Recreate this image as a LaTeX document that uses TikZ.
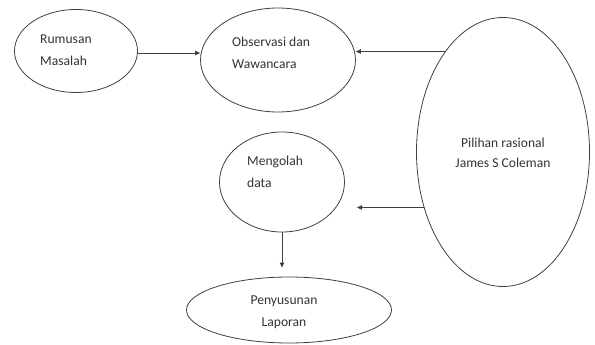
\documentclass[tikz,border=0pt]{standalone}
\usepackage{fontspec}
\setmainfont{Carlito}
\usetikzlibrary{shapes.geometric,arrows.meta}
\begin{document}
\begin{tikzpicture}[x=1pt, y=-1pt, line join=round, line cap=round,
		oval/.style={draw=black!75, line width=.8pt, ellipse, inner sep=0pt},
		teks/.style={text=black!80, font=\fontsize{13.6}{22}\selectfont, inner sep=0pt},
		panah/.style={draw=black!75, line width=.9pt, -{Triangle[length=5pt,width=4.5pt]}}]
	\useasboundingbox (0,0) rectangle (595,345);
	% ellips
	\node[oval, minimum width=123pt, minimum height=83pt] (rumusan) at (76,51) {};
	\node[oval, minimum width=155pt, minimum height=104pt] (obs) at (278,60) {};
	\node[oval, minimum width=173pt, minimum height=269pt] (pilihan) at (503,152) {};
	\node[oval, minimum width=125pt, minimum height=100pt] (olah) at (282,182) {};
	\node[oval, minimum width=205pt, minimum height=66pt] (susun) at (289,310) {};
	% teks
	\node[teks, anchor=west, align=left] (trumusan) at (40,50) {Rumusan\\Masalah};
	\node[teks, anchor=west, align=left] (tobs) at (232,53) {Observasi dan\\Wawancara};
	\node[teks, align=center, font=\fontsize{13.6}{20}\selectfont] (tpilihan) at (503,153) {Pilihan rasional\\James S Coleman};
	\node[teks, anchor=west, align=left] (tolah) at (247,172) {Mengolah\\data};
	\node[teks, align=center] (tsusun) at (284,312) {Penyusunan\\Laporan};
	% panah
	\coordinate (ujung) at (357,209);
	\draw[panah] (rumusan.east) ++(0,2) -- (obs.west |- 0,53);
	\draw[panah] (pilihan.120) -- (pilihan.120 -| obs.east);
	\draw[panah] (pilihan.215) -- (pilihan.215 -| ujung);
	\draw[panah, shorten >=9pt] (olah.south) -- (olah.south |- susun.north);
\end{tikzpicture}
\end{document}
